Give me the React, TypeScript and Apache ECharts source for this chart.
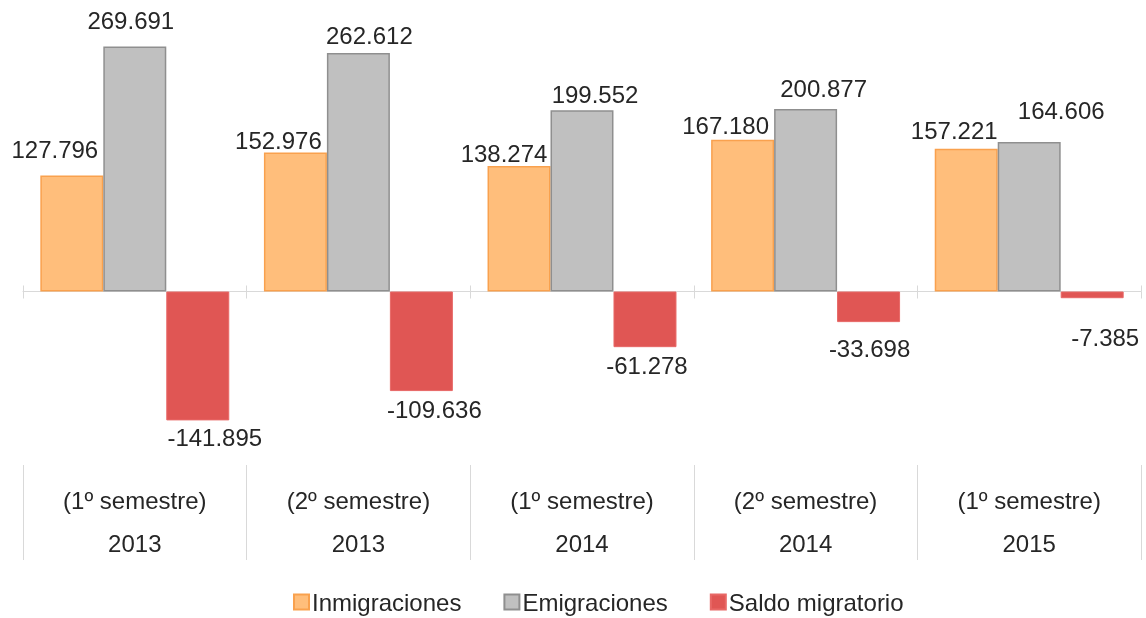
import React, { useEffect, useRef } from "react";
import * as echarts from "echarts";

const semesters = ["(1º semestre)", "(2º semestre)", "(1º semestre)", "(2º semestre)", "(1º semestre)"];
const years = ["2013", "2013", "2014", "2014", "2015"];
const inmigraciones = [127796, 152976, 138274, 167180, 157221];
const emigraciones = [269691, 262612, 199552, 200877, 164606];
const saldo = [-141895, -109636, -61278, -33698, -7385];
const seriesNames = ["Inmigraciones", "Emigraciones", "Saldo migratorio"];

// label placement tweaks (layout only)
const inmShift = [[-17, -14], [-17, 0], [-15, 0], [-17, -2], [-12, -6]];
const emiShift = [[-4, -14], [11, -5], [13, -4], [18, -9], [32, -19]];
const salShift = [[17, 5], [13, 6], [2, 6], [1, 14], [13, 27]];

const FONT = '"Liberation Sans", Arial, sans-serif';
const TXT = "#262626";

const fmt = (v: number) => {
  const neg = v < 0;
  const s = Math.abs(v).toString().replace(/\B(?=(\d{3})+(?!\d))/g, ".");
  return (neg ? "-" : "") + s;
};

export default function App() {
  const ref = useRef<HTMLDivElement>(null);
  useEffect(() => {
    if (!ref.current) return;
    const chart = echarts.init(ref.current, undefined, { renderer: "svg" });
    const categories = semesters.map((s, i) => s + "\n" + years[i]);
    const gridBox = { left: 23, right: 5, top: 19, bottom: 153 };
    const yMin = -191000;
    const yMax = 300000;
    const mkSeries = (name: string, vals: number[], shifts: number[][], pos: string, fill: string, border: string, bw: number) => ({
      name,
      type: "bar",
      xAxisIndex: 0,
      yAxisIndex: 0,
      barGap: "0%",
      barCategoryGap: "15.5%",
      itemStyle: { color: fill, borderColor: border, borderWidth: bw },
      label: {
        show: true,
        position: pos,
        distance: 0,
        fontSize: 24,
        fontFamily: FONT,
        color: TXT,
        formatter: (p: any) => fmt(p.value),
      },
      data: vals.map((v, i) => ({ value: v, label: { offset: shifts[i] } })),
    });
    chart.setOption({
      animation: false,
      textStyle: { fontFamily: FONT },
      grid: [
        { ...gridBox, containLabel: false },
        { ...gridBox, containLabel: false },
      ],
      xAxis: [
        {
          type: "category",
          gridIndex: 0,
          position: "bottom",
          data: categories,
          axisLine: { show: false, onZero: false },
          axisTick: { show: true, length: 95, lineStyle: { color: "#D9D9D9", width: 1 } },
          axisLabel: {
            show: true,
            margin: 14,
            fontSize: 24,
            lineHeight: 43,
            fontFamily: FONT,
            color: TXT,
          },
          splitLine: { show: false },
        },
        {
          type: "category",
          gridIndex: 0,
          position: "top",
          data: categories,
          axisLine: { show: true, onZero: true, lineStyle: { color: "#D9D9D9", width: 1 } },
          axisTick: { show: true, length: 6, lineStyle: { color: "#D9D9D9", width: 1 } },
          axisLabel: { show: false },
        },
        {
          type: "category",
          gridIndex: 1,
          position: "bottom",
          data: categories,
          axisLine: { show: false, onZero: true },
          axisTick: { show: true, length: 7, lineStyle: { color: "#D9D9D9", width: 1 } },
          axisLabel: { show: false },
        },
      ],
      yAxis: [
        { type: "value", gridIndex: 0, min: yMin, max: yMax, show: false, splitLine: { show: false } },
        { type: "value", gridIndex: 1, min: yMin, max: yMax, show: false, splitLine: { show: false } },
      ],
      legend: {
        left: 293,
        top: 590,
        padding: 0,
        itemWidth: 15,
        itemHeight: 15,
        itemGap: 42,
        icon: "rect",
        textStyle: { fontSize: 24, fontFamily: FONT, color: TXT, padding: [0, 0, 0, -2] },
        data: seriesNames,
      },
      series: [
        mkSeries(seriesNames[0], inmigraciones, inmShift, "top", "#FFBE7B", "#F9A14E", 1.5),
        mkSeries(seriesNames[1], emigraciones, emiShift, "top", "#C0C0C0", "#8F8F8F", 1.5),
        mkSeries(seriesNames[2], saldo, salShift, "bottom", "#E05654", "#E86866", 1),
      ],
    });
    return () => chart.dispose();
  }, []);
  return <div ref={ref} style={{ position: "fixed", left: 0, top: 0, width: 1146, height: 618 }} />;
}
